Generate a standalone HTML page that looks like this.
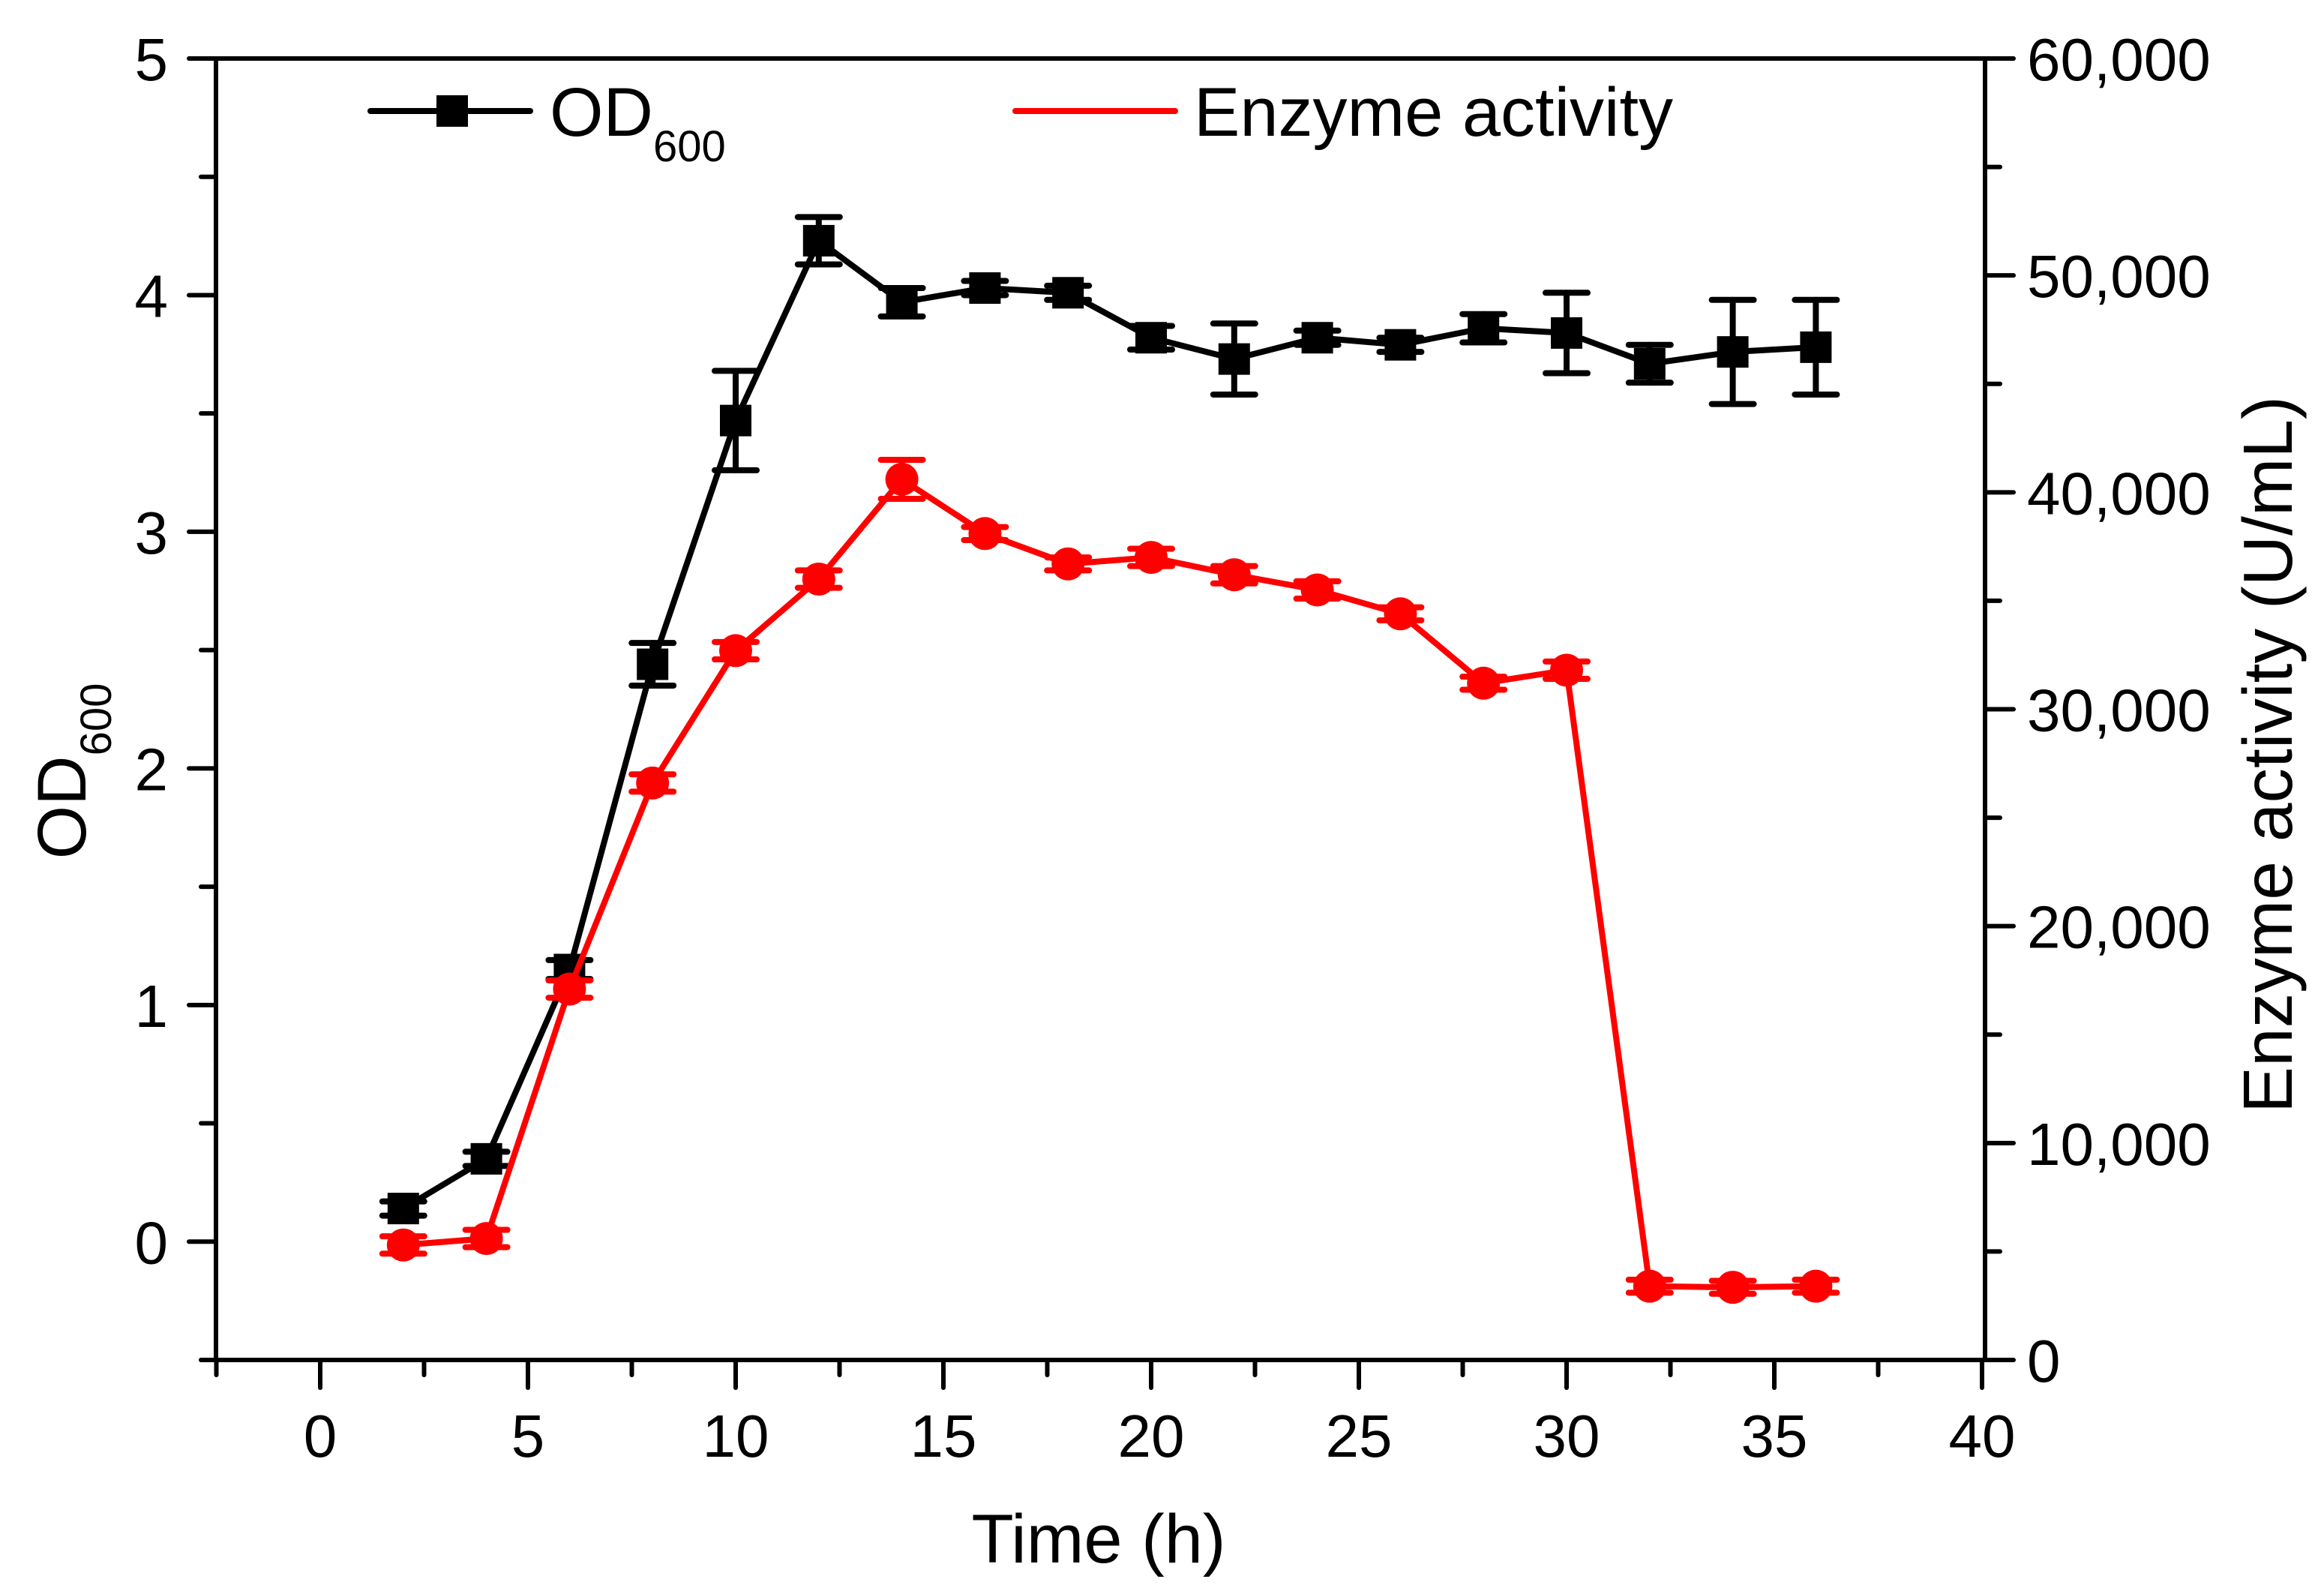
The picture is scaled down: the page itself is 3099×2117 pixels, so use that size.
<!DOCTYPE html>
<html><head><meta charset="utf-8"><style>
html,body{margin:0;padding:0;background:#fff}
svg{display:block}
text{font-family:"Liberation Sans",Arial,sans-serif;fill:#000}
</style></head><body>
<svg id="chart" width="3099" height="2117" viewBox="0 0 3099 2117" xmlns="http://www.w3.org/2000/svg">
<g id="axes"></g>
<g id="series"></g>
<g id="legend">
  <line x1="494" y1="148" x2="707" y2="148" stroke="#000" stroke-width="8" stroke-linecap="round"/>
  <rect x="582" y="127" width="42" height="42" fill="#000"/>
  <text x="733" y="181" font-size="92">OD<tspan font-size="58" dy="34">600</tspan></text>
  <line x1="1354" y1="148" x2="1567" y2="148" stroke="#f00" stroke-width="8" stroke-linecap="round"/>
  <text x="1592" y="181" font-size="92">Enzyme activity</text>
</g>
<text x="1465" y="2083" font-size="92" text-anchor="middle">Time (h)</text>
<text transform="translate(114,1028) rotate(-90)" font-size="92" text-anchor="middle">OD<tspan font-size="58" dy="34">600</tspan></text>
<text transform="translate(3056,1006) rotate(-90)" font-size="93" text-anchor="middle">Enzyme activity (U/mL)</text>
</svg>
<script>
const times = [2,4,6,8,10,12,14,16,18,20,22,24,26,28,30,32,34,36];
const odValues = [0.14,0.35,1.15,2.44,3.47,4.23,3.97,4.03,4.01,3.82,3.73,3.82,3.79,3.86,3.84,3.71,3.76,3.78];
const odErrors = [0.03,0.03,0.04,0.09,0.21,0.10,0.06,0.03,0.03,0.05,0.15,0.03,0.03,0.06,0.17,0.08,0.22,0.20];
const enzymeValues = [5300,5600,17100,26600,32700,36000,40600,38100,36700,37000,36200,35500,34400,31200,31800,3400,3350,3400];
const enzymeErrors = [400,400,400,400,400,400,900,300,300,400,400,400,300,300,400,300,300,300];
const xTicks = [0,5,10,15,20,25,30,35,40];
const leftTicks = [0,1,2,3,4,5];
const rightTicks = [0,10000,20000,30000,40000,50000,60000];
const rightTickLabels = ["0","10,000","20,000","30,000","40,000","50,000","60,000"];

const L=288,R=2647,T=78,B=1813;
const xs = v => 427 + (v-0)*(2643-427)/40;
const yl = v => T + (5-v)*(B-T)/5.5;
const yr = v => T + (60000-v)*(B-T)/60000;
const NS="http://www.w3.org/2000/svg";
function mk(tag, attrs, parent){const e=document.createElementNS(NS,tag);for(const k in attrs)e.setAttribute(k,attrs[k]);parent.appendChild(e);return e;}
const ax=document.getElementById('axes');
const sr=document.getElementById('series');
const S={stroke:"#000","stroke-width":6,"stroke-linecap":"round"};

let f=mk('rect',{x:L,y:T,width:R-L,height:B-T,fill:"none",stroke:"#000","stroke-width":6},ax);



for(let v=-2.5; v<=40.01; v+=2.5){
  const major = Math.abs(v%5)<1e-6;
  const t=mk('line',Object.assign({x1:xs(v),y1:B,x2:xs(v),y2:B+(major?37:20)},S),ax);
  
  
}
xTicks.forEach(v=>{
  const t=mk('text',{x:xs(v),y:1942,"font-size":80,"text-anchor":"middle"},ax);
  t.textContent=v;
  
  
});
for(let v=-0.5; v<=5.01; v+=0.5){
  const major=Math.abs(v-Math.round(v))<1e-6;
  const t=mk('line',Object.assign({x1:L,y1:yl(v),x2:L-(major?36:20),y2:yl(v)},S),ax);
  
  
}
leftTicks.forEach(v=>{
  const t=mk('text',{x:224,y:yl(v)+29,"font-size":80,"text-anchor":"end"},ax);
  t.textContent=v;
  
  
});
for(let v=0; v<=60000; v+=5000){
  const major=v%10000===0;
  const t=mk('line',Object.assign({x1:R,y1:yr(v),x2:R+(major?38:20),y2:yr(v)},S),ax);
  
  
}
rightTicks.forEach((v,i)=>{
  const t=mk('text',{x:2703,y:yr(v)+29,"font-size":80},ax);
  t.textContent=rightTickLabels[i];
  
  
});

function drawSeries(vals, errs, ys, color, name, shape){
  const pts=times.map((t,i)=>xs(t)+","+ys(vals[i])).join(" ");
  const pl=mk('polyline',{points:pts,fill:"none",stroke:color,"stroke-width":8,"stroke-linejoin":"round"},sr);
  
  
  times.forEach((t,i)=>{
    const x=xs(t), yt=ys(vals[i]+errs[i]), yb=ys(vals[i]-errs[i]);
    const g=mk('g',{stroke:color,"stroke-width":8,"stroke-linecap":"round"},sr);
    
    
    mk('line',{x1:x,y1:yt,x2:x,y2:yb},g);
    mk('line',{x1:x-28,y1:yt,x2:x+28,y2:yt},g);
    mk('line',{x1:x-28,y1:yb,x2:x+28,y2:yb},g);
    let m;
    if(shape==='square') m=mk('rect',{x:x-21,y:ys(vals[i])-21,width:42,height:42,fill:color},sr);
    else m=mk('circle',{cx:x,cy:ys(vals[i]),r:22,fill:color},sr);
    
    
  });
}
drawSeries(odValues,odErrors,yl,"#000","od600",'square');
drawSeries(enzymeValues,enzymeErrors,yr,"#f00","enzyme-activity",'circle');
</script>
</body></html>
